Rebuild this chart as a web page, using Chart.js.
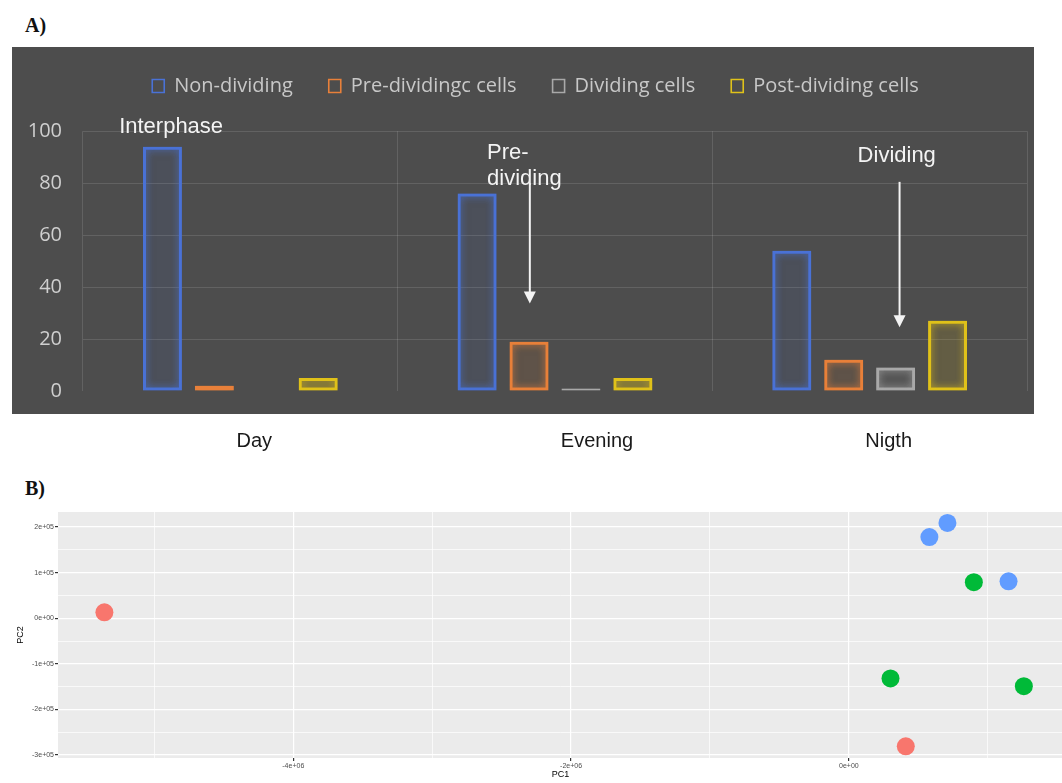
<!DOCTYPE html>
<html>
<head>
<meta charset="utf-8">
<script src="https://cdn.jsdelivr.net/npm/chart.js@4.4.0/dist/chart.umd.min.js"></script>
<style>
  body { margin: 0; background: #fff; width: 1062px; height: 783px; position: relative; overflow: hidden; }
  .panel-label { position: absolute; font: bold 20px "Liberation Serif", serif; color: #111; }
  #bgA { position: absolute; left: 12px; top: 47px; width: 1022px; height: 367px; background: #4d4d4d; }
  #wrapA { position: absolute; left: 12px; top: 47px; width: 1050px; height: 410px; }
  #wrapB { position: absolute; left: 0; top: 500px; width: 1072px; height: 283px; }
</style>
</head>
<body>
<div class="panel-label" style="left:25px;top:14px;">A)</div>
<div class="panel-label" style="left:25px;top:477px;">B)</div>
<div id="bgA"></div>
<div id="wrapA"><canvas id="cellChart" width="1050" height="410"></canvas></div>
<div id="wrapB"><canvas id="pcaChart" width="1072" height="283"></canvas></div>
<script>
// --- data: panel A (cell stage percentages) ---
const categories = ['Day', 'Evening', 'Nigth'];
const seriesNames = ['Non-dividing', 'Pre-dividingc cells', 'Dividing cells', 'Post-dividing cells'];
const nonDividing = [94, 76, 54];
const preDividing = [2, 19, 12];
const dividing = [0, 1, 9];
const postDividing = [5, 5, 27];

// --- data: panel B (PCA) ---
const group1PC1 = [-5.36e6, 0.41e6];
const group1PC2 = [0.13e5, -2.81e5];
const group2PC1 = [0.30e6, 0.90e6, 1.26e6];
const group2PC2 = [-1.32e5, 0.79e5, -1.49e5];
const group3PC1 = [0.58e6, 0.71e6, 1.15e6];
const group3PC2 = [1.78e5, 2.09e5, 0.81e5];

Chart.defaults.animation = false;
Chart.defaults.font.family = '"Open Sans", sans-serif';

// PANEL A: BAR CHART
const barColors = ['#4a72d6', '#e8803a', '#a9a9a9', '#e0c21a'];
const barFills = ['rgba(74,114,214,0.05)', 'rgba(232,128,58,0.06)', 'rgba(169,169,169,0.06)', 'rgba(224,194,26,0.08)'];
const barSeries = [nonDividing, preDividing, dividing, postDividing];

// annotation text and arrows, placed in data units
const notes = [
  { text: 'Interphase', x: -0.22, y: 101.5, align: 'center' },
  { text: 'Pre-', x: 0.784, y: 91.6, align: 'left' },
  { text: 'dividing', x: 0.784, y: 81.6, align: 'left' },
  { text: 'Dividing', x: 2.086, y: 90.4, align: 'center' }
];
const arrows = [
  { x: 0.92, from: 80, to: 33.7 },
  { x: 2.095, from: 80.5, to: 24.5 }
];
const labelShift = [14, 42, 19];

const glow = {
  id: 'glow',
  beforeDatasetDraw(chart, args) {
    const ctx = chart.ctx;
    ctx.save();
    ctx.shadowColor = barColors[args.index];
    ctx.shadowBlur = 7;
  },
  afterDatasetDraw(chart) {
    chart.ctx.restore();
  }
};

// nudge the legend row to the right, like the original slide
const legendShift = {
  id: 'legendShift',
  afterLayout(chart) {
    chart.legend.left += 16;
    chart.legend.right += 16;
  }
};

const notesPlugin = {
  id: 'notes',
  afterDraw(chart) {
    const { ctx, scales: { x, y }, chartArea } = chart;
    ctx.save();
    ctx.fillStyle = '#f4f4f4';
    ctx.font = '22px "Liberation Sans", Arial, sans-serif';
    ctx.textBaseline = 'middle';
    notes.forEach(n => {
      ctx.textAlign = n.align;
      ctx.fillText(n.text, x.getPixelForValue(n.x), y.getPixelForValue(n.y));
    });
    ctx.strokeStyle = '#f4f4f4';
    ctx.lineWidth = 2;
    arrows.forEach(a => {
      const px = x.getPixelForValue(a.x);
      const y0 = y.getPixelForValue(a.from);
      const y1 = y.getPixelForValue(a.to);
      ctx.beginPath();
      ctx.moveTo(px, y0);
      ctx.lineTo(px, y1 - 10);
      ctx.stroke();
      ctx.beginPath();
      ctx.moveTo(px - 6, y1 - 12);
      ctx.lineTo(px + 6, y1 - 12);
      ctx.lineTo(px, y1);
      ctx.closePath();
      ctx.fill();
    });
    // category labels below the dark panel
    ctx.fillStyle = '#1a1a1a';
    ctx.font = '20px "Liberation Sans", Arial, sans-serif';
    ctx.textAlign = 'center';
    categories.forEach((c, i) => {
      ctx.fillText(c, x.getPixelForValue(i) + labelShift[i], chartArea.bottom + 50);
    });
    ctx.restore();
  }
};

const cellCtx = document.getElementById('cellChart').getContext('2d');
new Chart(cellCtx, {
  type: 'bar',
  data: {
    labels: categories,
    datasets: barSeries.map((d, i) => ({
      label: seriesNames[i],
      data: d,
      borderColor: barColors[i],
      backgroundColor: barFills[i],
      borderWidth: 3,
      borderSkipped: false,
      categoryPercentage: 0.66,
      barPercentage: 0.75
    }))
  },
  options: {
    responsive: false,
    layout: { padding: { top: -7, left: 0, right: 35, bottom: 66 } },
    plugins: {
      legend: {
        labels: {
          color: '#c8c8c8',
          font: { size: 20 },
          boxWidth: 12,
          boxHeight: 13,
          padding: 36,
          generateLabels(chart) {
            const items = Chart.defaults.plugins.legend.labels.generateLabels(chart);
            items.forEach(it => { it.lineWidth = 1.6; it.fillStyle = 'rgba(0,0,0,0)'; });
            return items;
          }
        }
      },
      title: {
        display: true,
        text: '',
        weight: 500,
        font: { size: 1 },
        padding: { top: 0, bottom: 24 }
      },
      tooltip: { enabled: false }
    },
    scales: {
      x: {
        ticks: { display: false },
        grid: { color: 'rgba(255,255,255,0.12)', drawTicks: false },
        border: { display: false },
        afterFit(s) { s.height = 0; }
      },
      y: {
        min: 0,
        max: 100,
        ticks: { stepSize: 20, color: '#cfcfcf', font: { size: 20 }, padding: 21 },
        grid: {
          color: c => c.tick.value === 0 ? 'rgba(0,0,0,0)' : 'rgba(255,255,255,0.12)',
          drawTicks: false
        },
        border: { display: false },
        afterFit(s) { s.width = 71; }
      }
    }
  },
  plugins: [glow, legendShift, notesPlugin]
});

// PANEL B: PCA SCATTER
function sciLabel(v) {
  const [m, e] = v.toExponential(0).split('e');
  return m + 'e' + e[0] + e.slice(1).padStart(2, '0');
}
function isMultiple(v, step) {
  return Math.abs(v / step - Math.round(v / step)) < 1e-6;
}
// gridline positions at whole steps inside the axis range
function stepTicks(scale, step) {
  const first = Math.ceil(scale.min / step);
  const last = Math.floor(scale.max / step);
  scale.ticks = [];
  for (let k = first; k <= last; k++) scale.ticks.push({ value: k * step });
}

const panelBg = {
  id: 'panelBg',
  beforeDraw(chart) {
    const { ctx, chartArea: a } = chart;
    ctx.save();
    ctx.fillStyle = '#ebebeb';
    ctx.fillRect(a.left, a.top, a.right - a.left, a.bottom - a.top);
    ctx.restore();
  }
};

const toPoints = (xs, ys) => xs.map((v, i) => ({ x: v, y: ys[i] }));
const tickFont = { size: 7, family: '"Liberation Sans", Arial' };

const pcaCtx = document.getElementById('pcaChart').getContext('2d');
new Chart(pcaCtx, {
  type: 'scatter',
  data: {
    datasets: [
      { label: 'group1', data: toPoints(group1PC1, group1PC2), backgroundColor: '#F8766D' },
      { label: 'group2', data: toPoints(group2PC1, group2PC2), backgroundColor: '#00BA38' },
      { label: 'group3', data: toPoints(group3PC1, group3PC2), backgroundColor: '#619CFF' }
    ]
  },
  options: {
    responsive: false,
    layout: { padding: { top: 12, left: 0, right: 0, bottom: 0 } },
    elements: { point: { radius: 9, borderWidth: 0, hoverRadius: 9 } },
    plugins: { legend: { display: false }, tooltip: { enabled: false } },
    scales: {
      x: {
        type: 'linear',
        min: -5.694e6,
        max: 1.542e6,
        afterBuildTicks: s => stepTicks(s, 1e6),
        ticks: {
          autoSkip: false,
          maxRotation: 0,
          color: '#4d4d4d',
          font: tickFont,
          padding: 1,
          callback: v => isMultiple(v, 2e6) ? sciLabel(v) : ''
        },
        grid: {
          color: '#ffffff',
          lineWidth: c => isMultiple(c.tick.value, 2e6) ? 1.2 : 0.7,
          tickColor: c => isMultiple(c.tick.value, 2e6) ? '#333' : 'rgba(0,0,0,0)',
          tickLength: 3
        },
        border: { display: false },
        title: {
          display: true,
          text: 'PC1',
          color: '#000',
          font: { size: 9, family: '"Liberation Sans", Arial' },
          padding: { top: 0, bottom: 3 }
        },
        afterFit(s) { s.height = 25; }
      },
      y: {
        min: -3.066e5,
        max: 2.33e5,
        afterBuildTicks: s => stepTicks(s, 5e4),
        ticks: {
          autoSkip: false,
          color: '#4d4d4d',
          font: tickFont,
          padding: 1,
          callback: v => isMultiple(v, 1e5) ? sciLabel(v) : ''
        },
        grid: {
          color: '#ffffff',
          lineWidth: c => isMultiple(c.tick.value, 1e5) ? 1.2 : 0.7,
          tickColor: c => isMultiple(c.tick.value, 1e5) ? '#333' : 'rgba(0,0,0,0)',
          tickLength: 3
        },
        border: { display: false },
        title: {
          display: true,
          text: 'PC2',
          color: '#000',
          font: { size: 9, family: '"Liberation Sans", Arial' },
          padding: { top: 15 }
        },
        afterFit(s) { s.width = 58; }
      }
    }
  },
  plugins: [panelBg]
});
</script>
</body>
</html>
